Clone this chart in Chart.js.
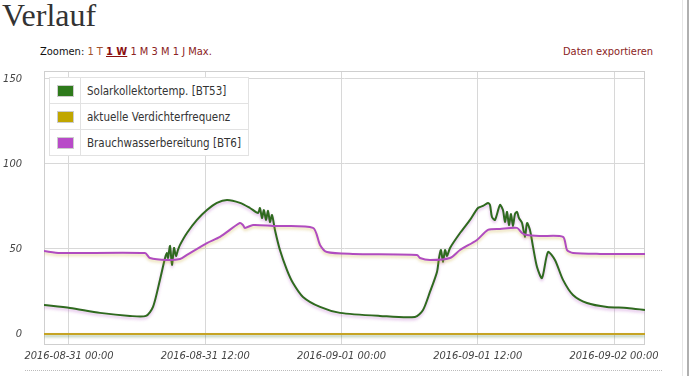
<!DOCTYPE html>
<html>
<head>
<meta charset="utf-8">
<script src="https://cdn.jsdelivr.net/npm/chart.js@4.4.0/dist/chart.umd.min.js"></script>
<style>
  html, body { margin: 0; padding: 0; background: #fff; }
  body { width: 690px; height: 376px; position: relative; overflow: hidden; font-family: "DejaVu Sans Condensed", "DejaVu Sans", sans-serif; }
  #title { position: absolute; left: 2px; top: -3px; font: 32px "Liberation Serif", serif; color: #333; }
  #zoom { position: absolute; left: 40px; top: 45px; font-size: 11px; color: #111; }
  #zoom a { color: #8b2323; text-decoration: none; }
  #zoom a.first { color: #a0522d; }
  #zoom a.act { font-weight: bold; text-decoration: underline; color: #8b1010; }
  #export { position: absolute; left: 563px; top: 45px; font-size: 11px; color: #8b2323; }
  #wrap { position: absolute; left: 0; top: 60px; width: 690px; height: 316px; }
  #legend { position: absolute; left: 49px; top: 77px; border-collapse: collapse; background: #fff; font-size: 11.5px; color: #333; }
  #legend td { border: 1px solid #e2e2e2; height: 25px; padding: 0; white-space: nowrap; }
  #legend td.sw { width: 30px; text-align: center; }
  #legend td.sw span { display: inline-block; width: 15px; height: 10px; border: 1px solid #ccc; vertical-align: middle; }
  #legend td.tx { padding: 0 5px 0 6px; width: 156px; }
  #dots { position: absolute; left: 25px; top: 370px; width: 637px; border-top: 1px dotted #bbb; }
  #edge1 { position: absolute; left: 682px; top: 0; width: 1px; height: 376px; background: #e6e6e6; }
  #edge2 { position: absolute; left: 687px; top: 0; width: 2px; height: 376px; background: #b0b0b0; }
</style>
</head>
<body>
<div id="title">Verlauf</div>
<div id="zoom">Zoomen: <a class="first">1 T</a> <a class="act">1 W</a> <a>1 M</a> <a>3 M</a> <a>1 J</a> <a>Max.</a></div>
<div id="export">Daten exportieren</div>
<div id="wrap"><canvas id="chart" width="690" height="316"></canvas></div>
<table id="legend"></table>
<div id="dots"></div>
<div id="edge1"></div>
<div id="edge2"></div>
<script>
/* --------- Daten (Stunden ab 2016-08-31 00:00) --------- */
const startDay = ["2016-08-31", "2016-09-01", "2016-09-02"];
const xTicks = [0, 12, 24, 36, 48];
const yTicks = [0, 50, 100, 150];

const seriesNames = ["Solarkollektortemp. [BT53]", "aktuelle Verdichterfrequenz", "Brauchwasserbereitung [BT6]"];
const lineColors = ["#2f6a1f", "#c6a424", "#b04cc0"];
const swatchColors = ["#2e7a1b", "#c0a600", "#b84ac8"];

// Solarkollektortemp. [BT53]
const solarHours = [-2.2, 0.09, 2.73, 5.37, 6.78, 7.4, 8.01, 8.46, 8.63, 8.72, 8.9, 9.07, 9.25, 9.42, 9.6, 9.78,
  10.39, 11.27, 12.15, 13.03, 13.92, 15.06, 15.94, 16.65, 16.82, 17.0, 17.17, 17.35, 17.53, 17.7, 17.88,
  18.14, 18.58, 19.2, 19.73, 20.61, 22.11, 23.87, 27.39, 30.47, 31.18, 31.79, 32.41, 32.59, 32.76, 32.94,
  33.12, 33.29, 33.56, 34.44, 35.32, 36.02, 36.46, 36.9, 37.08, 37.25, 37.52, 37.96, 38.22, 38.4, 38.58,
  38.75, 38.93, 39.1, 39.28, 39.46, 39.63, 39.9, 40.16, 40.34, 40.6, 40.87, 41.22, 41.66, 42.19, 42.8,
  43.51, 44.39, 45.62, 47.38, 49.15, 50.73];
const solarTemp = [17.1, 15.3, 12.4, 10.6, 10.6, 15.9, 31.8, 44.7, 47.6, 44.7, 51.8, 40.6, 50.6, 45.9, 49.4, 52.4,
  59.4, 67.1, 72.9, 77.1, 78.8, 77.1, 74.1, 71.2, 74.1, 68.2, 72.9, 67.1, 72.4, 65.9, 70.0,
  61.2, 49.4, 37.6, 30.0, 21.8, 15.9, 12.4, 10.6, 10.0, 14.1, 24.7, 36.5, 44.7, 49.4, 42.4,
  49.4, 45.9, 50.6, 59.4, 67.1, 74.1, 75.3, 77.1, 75.9, 68.8, 67.1, 75.9, 72.9, 65.9, 71.8,
  64.1, 70.6, 63.5, 70.6, 71.8, 68.2, 65.3, 57.1, 65.3, 61.2, 51.2, 39.4, 32.9, 48.2, 43.5,
  31.8, 22.9, 18.2, 15.9, 15.3, 14.1];

// aktuelle Verdichterfrequenz
const verdHours = [-2.2, 50.73];
const verdFreq = [0, 0];

// Brauchwasserbereitung [BT6]
const bwHours = [-2.2, -0.79, 6.69, 7.13, 8.63, 9.78, 10.39, 12.15, 13.3, 15.06, 15.32, 15.5, 16.21, 17.97,
  21.49, 22.11, 22.72, 25.01, 30.65, 30.91, 31.79, 33.56, 34.44, 35.93, 36.9, 37.96, 39.46, 39.9, 40.34,
  41.48, 43.51, 43.86, 44.39, 46.77, 50.73];
const bwTemp = [48.8, 47.6, 47.6, 44.7, 43.5, 44.1, 46.5, 53.5, 57.1, 65.3, 64.1, 62.4, 64.1, 63.5,
  62.4, 52.4, 48.2, 47.1, 46.5, 44.7, 43.5, 44.7, 49.4, 55.3, 61.2, 61.8, 62.4, 59.4, 58.2,
  57.6, 57.1, 49.4, 47.6, 47.1, 47.1];

/* --------- Hilfsfunktionen --------- */
function toPoints(hours, values) {
  return hours.map((h, i) => ({ x: h, y: values[i] }));
}

function makeDataset(idx, hours, values) {
  return {
    label: seriesNames[idx],
    data: toPoints(hours, values),
    borderColor: lineColors[idx],
    borderWidth: 2,
    pointRadius: 0,
    tension: 0.25,
    fill: false,
  };
}

function formatHour(v) {
  const d = startDay[Math.floor(v / 24)];
  const h = String(v % 24).padStart(2, "0");
  return `${d} ${h}:00`;
}

/* --------- Legende --------- */
const legend = document.getElementById("legend");
[0, 1, 2].forEach((i) => {
  legend.insertAdjacentHTML("beforeend",
    `<tr><td class="sw"><span style="background:${swatchColors[i]}"></span></td><td class="tx">${seriesNames[i]}</td></tr>`);
});

/* --------- Plugins --------- */
const shadowPlugin = {
  id: "shadow",
  beforeDatasetDraw(chart, args) {
    const ctx = chart.ctx;
    ctx.save();
    ctx.shadowColor = lineColors[args.index] + "66";
    ctx.shadowBlur = 3;
    ctx.shadowOffsetY = 2;
  },
  afterDatasetDraw(chart) {
    chart.ctx.restore();
  },
};

const framePlugin = {
  id: "frame",
  beforeDatasetsDraw(chart) {
    const { ctx, chartArea: a } = chart;
    ctx.save();
    ctx.strokeStyle = "#cfcfcf";
    ctx.lineWidth = 1;
    ctx.strokeRect(a.left + 0.5, a.top + 0.5, a.right - a.left - 1, a.bottom - a.top - 1);
    ctx.restore();
  },
};

/* --------- Diagramm --------- */
const tickFont = { family: "'DejaVu Sans Condensed', 'DejaVu Sans', sans-serif", size: 11, style: "italic" };

new Chart(document.getElementById("chart"), {
  type: "line",
  data: {
    datasets: [
      makeDataset(1, verdHours, verdFreq),
      makeDataset(2, bwHours, bwTemp),
      makeDataset(0, solarHours, solarTemp),
    ],
  },
  options: {
    responsive: false,
    animation: false,
    layout: { padding: { top: 11, right: 45, left: 0, bottom: 0 } },
    plugins: { legend: { display: false }, tooltip: { enabled: false } },
    scales: {
      x: {
        type: "linear",
        min: -2.2,
        max: 50.73,
        afterBuildTicks: (s) => { s.ticks = xTicks.map((v) => ({ value: v })); },
        afterFit: (s) => { s.height = 31; s.paddingLeft = 0; s.paddingRight = 0; },
        ticks: { callback: (v) => formatHour(v), color: "#444", font: tickFont, padding: 5, maxRotation: 0, autoSkip: false },
        grid: { color: "#d8d8d8", drawTicks: false },
        border: { display: false },
      },
      y: {
        min: -6.5,
        max: 154.7,
        afterBuildTicks: (s) => { s.ticks = yTicks.map((v) => ({ value: v })); },
        afterFit: (s) => { s.width = 44; s.paddingTop = 0; s.paddingBottom = 0; },
        ticks: { color: "#444", font: tickFont, padding: 22 },
        grid: { color: "#d8d8d8", drawTicks: false },
        border: { display: false },
      },
    },
  },
  plugins: [framePlugin, shadowPlugin],
});
</script>
</body>
</html>
